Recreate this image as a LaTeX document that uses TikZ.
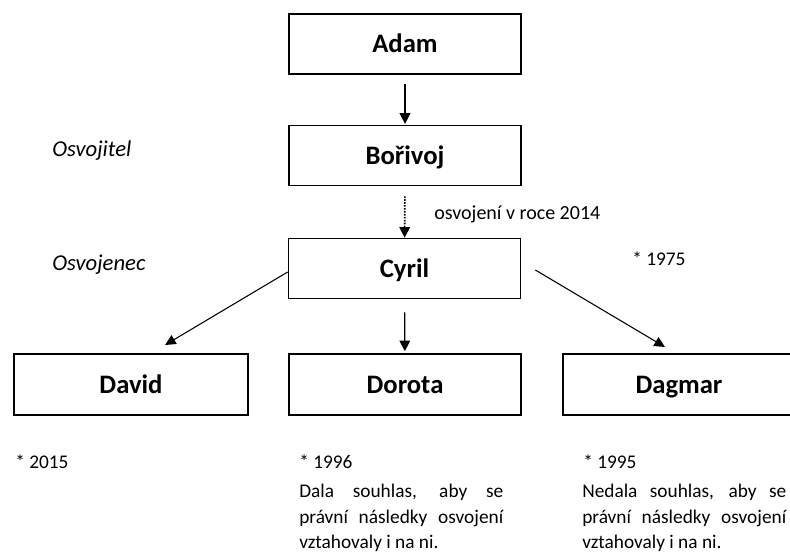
\documentclass[tikz,border=0pt]{standalone}
\usepackage{fontspec}
\setmainfont{Carlito}
\usetikzlibrary{arrows.meta}
\begin{document}
\begin{tikzpicture}[x=0.75pt,y=-0.75pt,
  box/.style={draw, line width=1.2pt, minimum width=174pt, minimum height=45pt, inner sep=0pt,
    text height=12.9pt, text depth=0pt,
    font=\fontsize{20}{24}\selectfont\bfseries},
  arr/.style={line width=1pt, -{Triangle[length=8pt,width=8pt]}},
  darr/.style={line width=0.8pt, -{Triangle[length=8pt,width=7.5pt]}},
  role/.style={anchor=base west, inner sep=0pt, font=\fontsize{17}{20}\selectfont\itshape},
  small/.style={anchor=base west, inner sep=0pt, font=\fontsize{14.5}{19}\selectfont},
  note/.style={anchor=base west, inner sep=0pt, font=\fontsize{15}{19}\selectfont}]
\useasboundingbox (0,0) rectangle (790,554);
\clip (0,0) rectangle (790,554);
% boxes
\node[box] (adam) at (405,44) {Adam};
\node[box] (borivoj) at (405,155.5) {Bořivoj};
\node[box] (cyril) at (404.5,268.5) {Cyril};
\node[box, minimum width=175.5pt, minimum height=45.75pt] (david) at (131,384.5) {David};
\node[box, minimum height=45.75pt] (dorota) at (405,384.5) {Dorota};
\node[box, minimum height=45.75pt] (dagmar) at (679,384.5) {Dagmar};
% connectors
\draw[arr, shorten <=6.75pt, shorten >=0.6pt] (adam) -- (borivoj);
\draw[arr, line width=1.2pt, densely dotted, shorten <=7.5pt] (borivoj) -- (cyril);
\draw[arr, shorten <=9.75pt, shorten >=1.5pt] (cyril) -- (dorota);
\coordinate (dvtip) at (165,345);
\coordinate (dgtip) at (665,347);
\draw[darr] ([yshift=-2.6pt]cyril.west) -- (dvtip);
\draw[darr] ([xshift=10.5pt,yshift=-1.1pt]cyril.east) -- (dgtip);
% labels
\node[role] (osvojitel) at (52,156) {Osvojitel};
\node[role] (osvojenec) at (52,270) {Osvojenec};
\node[note] (rok) at (434,219) {osvojení v roce 2014};
\node[small] (n1975) at (632,265) {* 1975};
\node[small] (n2015) at (15,468) {* 2015};
\node[small] (n1996) at (299,468) {* 1996};
\node[small] (d1) at (299,497) {\makebox[153pt][s]{Dala souhlas, aby se}};
\node[small] (d2) at (299,523) {\makebox[153pt][s]{právní následky osvojení}};
\node[small] (d3) at (299,548) {vztahovaly i na ni.};
\node[small] (n1995) at (583,468) {* 1995};
\node[small] (g1) at (582,497) {\makebox[153pt][s]{Nedala souhlas, aby se}};
\node[small] (g2) at (582,523) {\makebox[153pt][s]{právní následky osvojení}};
\node[small] (g3) at (582,548) {vztahovaly i na ni.};
\end{tikzpicture}
\end{document}
